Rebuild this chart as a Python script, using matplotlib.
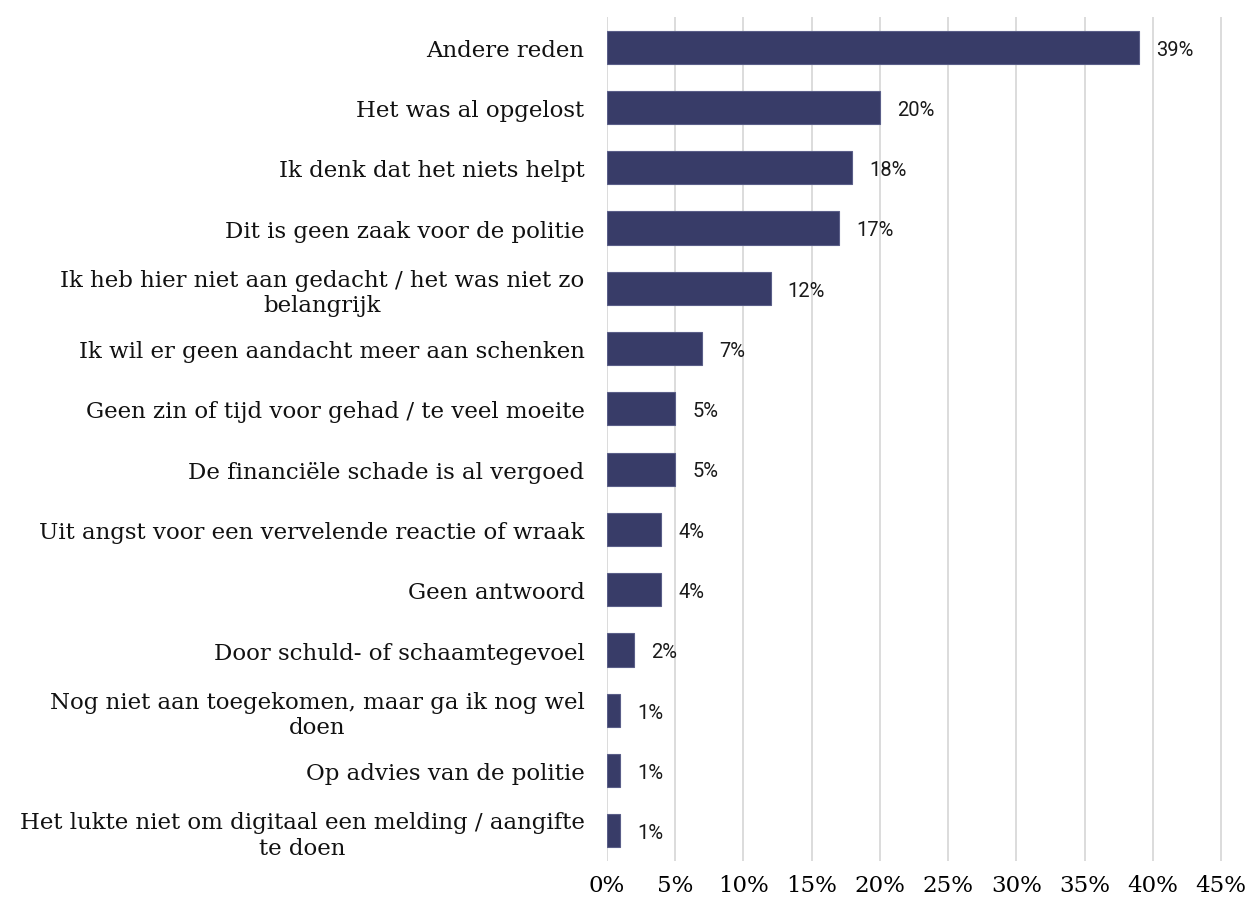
import numpy as np
import matplotlib
matplotlib.use("Agg")
import matplotlib.pyplot as plt

# reasons for not reporting, top to bottom
categories = [
    "Andere reden",
    "Het was al opgelost",
    "Ik denk dat het niets helpt",
    "Dit is geen zaak voor de politie",
    "Ik heb hier niet aan gedacht / het was niet zo\nbelangrijk",
    "Ik wil er geen aandacht meer aan schenken",
    "Geen zin of tijd voor gehad / te veel moeite",
    "De financiële schade is al vergoed",
    "Uit angst voor een vervelende reactie of wraak",
    "Geen antwoord",
    "Door schuld- of schaamtegevoel",
    "Nog niet aan toegekomen, maar ga ik nog wel\ndoen",
    "Op advies van de politie",
    "Het lukte niet om digitaal een melding / aangifte\nte doen",
]
values = [39, 20, 18, 17, 12, 7, 5, 5, 4, 4, 2, 1, 1, 1]
xticks = [0, 5, 10, 15, 20, 25, 30, 35, 40, 45]

BAR = "#383c68"
GRID = "#d9d9d9"
SERIF = ["DejaVu Serif"]

fig, ax = plt.subplots(figsize=(12.51, 9.03), dpi=100)
fig.subplots_adjust(left=0.485, right=0.9794, top=0.980, bottom=0.0454)

y = np.arange(len(categories))
ax.barh(y, values, height=0.55, color=BAR, edgecolor="#5a5e88", linewidth=0.8, zorder=3)
for yi, v in zip(y, values):
    ax.text(v + 1.25, yi + 0.03, f"{v}%", va="center", ha="left",
            fontsize=14.5, family="Roboto", color="#1a1a1a", zorder=4)

ax.set_ylim(len(categories) - 0.5, -0.5)
ax.set_xlim(0, 45.3)
ax.set_xticks(xticks)
ax.set_xticklabels([f"{t}%" for t in xticks], family=SERIF, fontsize=16.5)
ax.set_yticks(y)
ax.set_yticklabels(categories, family=SERIF, fontsize=16.5,
                   multialignment="center", color="#111111")
ax.tick_params(axis="both", length=0)
ax.tick_params(axis="x", pad=9)
ax.tick_params(axis="y", pad=16)

ax.grid(axis="x", color=GRID, linewidth=1.3, zorder=0)
for s in ax.spines.values():
    s.set_visible(False)

fig.savefig("out.png")
